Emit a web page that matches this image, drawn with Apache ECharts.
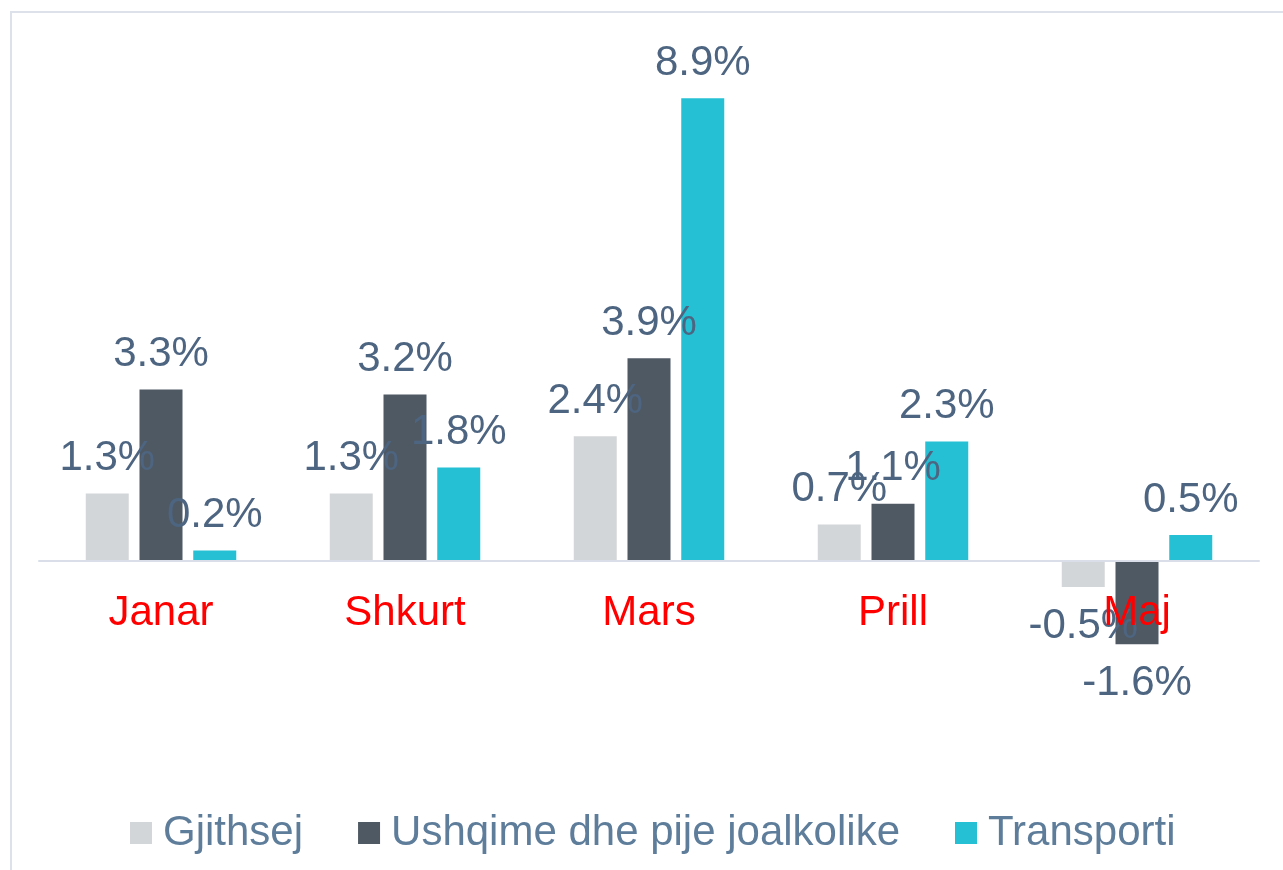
<!DOCTYPE html>
<html>
<head>
<meta charset="utf-8">
<script src="https://cdn.jsdelivr.net/npm/echarts@6/dist/echarts.min.js"></script>
<style>
    html, body { margin: 0; padding: 0; background: #fff; }
    #charts { width: 1283px; height: 870px; }
</style>
</head>
<body>
<div id="charts"></div>
<script>
// te dhenat e grafikut
var months = ['Janar', 'Shkurt', 'Mars', 'Prill', 'Maj'];
var seriesNames = ['Gjithsej', 'Ushqime dhe pije joalkolike', 'Transporti'];
var gjithsej = [1.3, 1.3, 2.4, 0.7, -0.5];
var ushqime = [3.3, 3.2, 3.9, 1.1, -1.6];
var transporti = [0.2, 1.8, 8.9, 2.3, 0.5];
var colors = ['#d3d6d9', '#4f5964', '#25c0d4'];

var font = '"Liberation Sans", Arial, sans-serif';

function withLabels(values) {
    // negative values get their label under the bar
    return values.map(function(v) {
        return {
            value: v,
            label: v < 0 ? { position: 'bottom', distance: 18 } : { position: 'top', distance: 14 }
        };
    });
}

function makeSeries(name, values, color) {
    return {
        name: name,
        type: 'bar',
        barWidth: 43,
        barGap: '25%',
        data: withLabels(values),
        itemStyle: { color: color },
        label: {
            show: true,
            color: '#4d6580',
            fontFamily: font,
            fontSize: 42,
            formatter: function(p) { return p.value.toFixed(1) + '%'; }
        },
        z: 2
    };
}

function render() {
    var myChart = echarts.init(document.getElementById('charts'));
    var option = {
        animation: false,
        color: colors,
        graphic: [{
            type: 'rect',
            shape: { x: 11, y: 12, width: 1320, height: 920 },
            style: { fill: 'none', stroke: '#dde2ea', lineWidth: 2 },
            silent: true
        }],
        legend: {
            left: 125,
            top: 807,
            itemWidth: 22,
            itemHeight: 22,
            itemGap: 55,
            icon: 'rect',
            textStyle: {
                color: '#5e7d9b',
                fontFamily: font,
                fontSize: 42,
                padding: [0, 0, 0, 6]
            },
            data: seriesNames
        },
        grid: {
            left: 39,
            top: 41,
            width: 1220,
            height: 624
        },
        xAxis: {
            type: 'category',
            data: months,
            // zero line sits 2 units above the grid bottom (2 * 52px)
            offset: -104,
            axisLine: { onZero: false, lineStyle: { color: '#d9dee8', width: 2 } },
            axisTick: { show: false },
            axisLabel: {
                color: '#ff0000',
                fontFamily: font,
                fontSize: 42,
                margin: 31
            },
            z: 5
        },
        yAxis: {
            type: 'value',
            min: -2,
            max: 10,
            interval: 2,
            show: false,
            splitLine: { show: false }
        },
        series: [
            makeSeries(seriesNames[0], gjithsej, colors[0]),
            makeSeries(seriesNames[1], ushqime, colors[1]),
            makeSeries(seriesNames[2], transporti, colors[2])
        ]
    };
    myChart.setOption(option);
}

render();
</script>
</body>
</html>
